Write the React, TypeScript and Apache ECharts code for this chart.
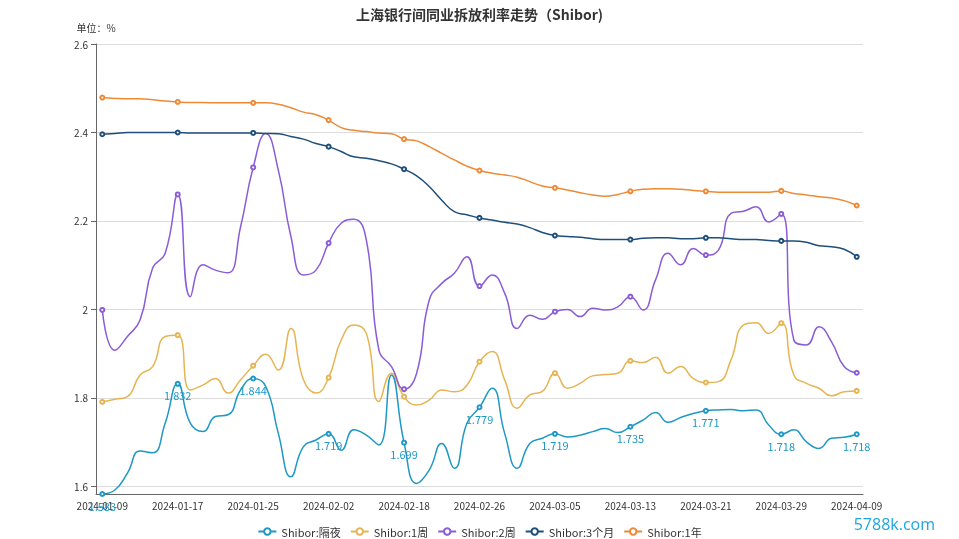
import React, { useEffect, useRef } from "react";
import * as echarts from "echarts";

const dates = [
  "2024-01-09","2024-01-10","2024-01-11","2024-01-12","2024-01-15","2024-01-16","2024-01-17",
  "2024-01-18","2024-01-19","2024-01-22","2024-01-23","2024-01-24","2024-01-25",
  "2024-01-26","2024-01-29","2024-01-30","2024-01-31","2024-02-01","2024-02-02",
  "2024-02-04","2024-02-05","2024-02-06","2024-02-07","2024-02-08","2024-02-18",
  "2024-02-19","2024-02-20","2024-02-21","2024-02-22","2024-02-23","2024-02-26",
  "2024-02-27","2024-02-28","2024-02-29","2024-03-01","2024-03-04","2024-03-05",
  "2024-03-06","2024-03-07","2024-03-08","2024-03-11","2024-03-12","2024-03-13",
  "2024-03-14","2024-03-15","2024-03-18","2024-03-19","2024-03-20","2024-03-21",
  "2024-03-22","2024-03-25","2024-03-26","2024-03-27","2024-03-28","2024-03-29",
  "2024-04-01","2024-04-02","2024-04-03","2024-04-07","2024-04-08","2024-04-09",
];

const overnight = [
  1.583,1.592,1.630,1.680,1.676,1.743,1.832,
  1.743,1.724,1.758,1.762,1.818,1.844,
  1.826,1.720,1.622,1.690,1.705,1.719,
  1.682,1.728,1.716,1.694,1.852,1.699,
  1.607,1.637,1.697,1.641,1.743,1.779,
  1.822,1.720,1.641,1.697,1.709,1.719,
  1.712,1.716,1.724,1.731,1.722,1.735,
  1.750,1.767,1.745,1.756,1.765,1.771,
  1.773,1.774,1.771,1.773,1.739,1.718,
  1.728,1.701,1.686,1.709,1.711,1.718,
];

const week1 = [
  1.791,1.797,1.803,1.852,1.871,1.939,1.942,
  1.818,1.829,1.844,1.811,1.841,1.873,
  1.899,1.863,1.957,1.841,1.811,1.846,
  1.931,1.965,1.946,1.792,1.856,1.803,
  1.784,1.795,1.818,1.814,1.829,1.882,
  1.905,1.841,1.777,1.807,1.815,1.856,
  1.822,1.833,1.850,1.853,1.856,1.884,
  1.880,1.892,1.856,1.871,1.844,1.835,
  1.837,1.886,1.965,1.970,1.946,1.969,
  1.852,1.833,1.822,1.805,1.814,1.816,
];

const week2 = [
  1.999,1.908,1.939,1.976,2.093,2.127,2.260,
  2.029,2.101,2.089,2.083,2.187,2.321,
  2.398,2.315,2.165,2.078,2.089,2.150,
  2.195,2.204,2.157,1.908,1.871,1.820,
  1.856,2.021,2.059,2.082,2.119,2.053,
  2.078,2.037,1.957,1.987,1.978,1.995,
  2.000,1.984,2.003,1.999,2.006,2.029,
  1.999,2.067,2.127,2.101,2.138,2.123,
  2.134,2.217,2.222,2.232,2.198,2.216,
  1.931,1.920,1.961,1.927,1.871,1.857,
];

const month3 = [
  2.396,2.398,2.400,2.400,2.400,2.400,2.400,
  2.399,2.399,2.399,2.399,2.399,2.399,
  2.398,2.397,2.391,2.385,2.375,2.368,
  2.357,2.345,2.342,2.336,2.329,2.317,
  2.302,2.278,2.247,2.221,2.214,2.207,
  2.202,2.197,2.193,2.185,2.174,2.167,
  2.165,2.163,2.160,2.158,2.158,2.158,
  2.161,2.162,2.162,2.160,2.160,2.162,
  2.162,2.160,2.158,2.158,2.156,2.155,
  2.155,2.152,2.144,2.142,2.136,2.119,
];

const year1 = [
  2.479,2.477,2.476,2.476,2.474,2.471,2.469,
  2.468,2.468,2.467,2.467,2.467,2.467,
  2.467,2.464,2.456,2.446,2.440,2.428,
  2.411,2.405,2.402,2.399,2.397,2.385,
  2.381,2.368,2.353,2.338,2.324,2.314,
  2.308,2.304,2.299,2.289,2.279,2.275,
  2.270,2.264,2.259,2.256,2.260,2.267,
  2.272,2.273,2.273,2.272,2.269,2.267,
  2.265,2.265,2.265,2.265,2.265,2.268,
  2.262,2.259,2.255,2.252,2.246,2.235,
];

const seriesNames = ["Shibor:隔夜", "Shibor:1周", "Shibor:2周", "Shibor:3个月", "Shibor:1年"];
const seriesColors = ["#1e98c6", "#e6b452", "#8a5cd6", "#1f4e79", "#ee8a36"];
const markStep = 6;

export default function App() {
  const ref = useRef<HTMLDivElement>(null);
  useEffect(() => {
    if (!ref.current) return;
    const chart = echarts.init(ref.current, undefined, { renderer: "svg" });
    const allData = [overnight, week1, week2, month3, year1];
    chart.setOption({
      animation: false,
      color: seriesColors,
      textStyle: { fontFamily: "'Noto Sans CJK SC', 'Noto Sans', sans-serif" },
      title: {
        text: "上海银行间同业拆放利率走势（Shibor)",
        left: "center",
        top: 2,
        textStyle: { fontSize: 14, fontWeight: "bold", color: "#333" },
      },
      legend: {
        top: 521,
        left: "center",
        itemGap: 9,
        itemWidth: 18,
        itemHeight: 8,
        textStyle: { fontSize: 11, color: "#333" },
        data: seriesNames,
      },
      grid: { left: 96, right: 96, top: 44, bottom: 45, containLabel: false },
      xAxis: {
        type: "category",
        data: dates,
        boundaryGap: true,
        axisLine: { lineStyle: { color: "#666" } },
        axisTick: { interval: 5, lineStyle: { color: "#666" } },
        axisLabel: { interval: 5, fontSize: 10, color: "#333", margin: 6 },
      },
      yAxis: {
        type: "value",
        name: "单位：%",
        nameTextStyle: { color: "#333", fontSize: 10 },
        nameGap: 12,
        min: "dataMin",
        max: 2.6,
        axisLine: { show: true, lineStyle: { color: "#666" } },
        axisTick: { show: true, lineStyle: { color: "#666" } },
        axisLabel: { fontSize: 10, color: "#333", showMinLabel: false },
        splitLine: { lineStyle: { color: "#ddd" } },
      },
      graphic: [
        {
          type: "text",
          right: 24,
          bottom: 7,
          style: { text: "5788k.com", fill: "#1ea6df", fontSize: 16, fontFamily: "'Open Sans', sans-serif" },
        },
      ],
      series: allData.map((d, i) => ({
        name: seriesNames[i],
        type: "line",
        data: d.map((v, j) =>
          j % markStep === 0
            ? { value: v }
            : { value: v, symbol: "none", label: { show: false } }
        ),
        smooth: true,
        symbol: "emptyCircle",
        symbolSize: 4,
        showAllSymbol: true,
        lineStyle: { width: 1.5 },
        label: i === 0 ? { show: true, position: "bottom", distance: 3, color: seriesColors[0], fontSize: 11 } : { show: false },
      })),
    });
    return () => chart.dispose();
  }, []);
  return <div ref={ref} style={{ position: "fixed", left: 0, top: 0, width: 959, height: 539 }} />;
}
